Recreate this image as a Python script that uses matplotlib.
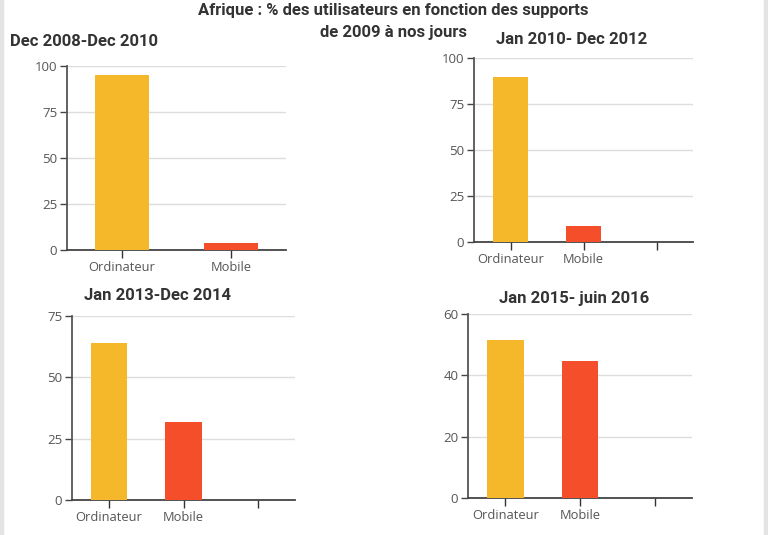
import matplotlib
matplotlib.use("Agg")
import matplotlib.pyplot as plt
from matplotlib.patches import Rectangle

# data
periods = ["Dec 2008-Dec 2010", "Jan 2010- Dec 2012", "Jan 2013-Dec 2014", "Jan 2015- juin 2016"]
supports = ["Ordinateur", "Mobile"]
ordinateur = [95, 90, 64, 51.6]
mobile = [4, 9, 32, 44.6]
y_max = [100, 100, 75, 60]
y_ticks = [[0, 25, 50, 75, 100], [0, 25, 50, 75, 100], [0, 25, 50, 75], [0, 20, 40, 60]]
n_slots = [2, 3, 3, 3]  # the last three panels carry an empty third slot

yellow = "#F6B82B"
red = "#F54E2B"

plt.rcParams["font.family"] = ["Open Sans", "DejaVu Sans"]

fig = plt.figure(figsize=(7.68, 5.35), dpi=100)
W, H = 768, 535

# axes boxes in pixels: left, top, right, bottom
boxes = [(67, 66, 286, 250), (474, 58.3, 693, 242.3), (72, 316, 295, 500.3), (468, 313.7, 692, 498)]
titles_xy = [(10, 42, "left"), (572, 40, "center"), (157, 296, "center"), (574, 298, "center")]

for i, (l, t, r, b) in enumerate(boxes):
    ax = fig.add_axes([l / W, 1 - b / H, (r - l) / W, (b - t) / H])
    vals = [ordinateur[i], mobile[i]]
    ax.bar(range(2), vals, width=0.49, color=[yellow, red], zorder=3)
    ax.set_xlim(-0.5, n_slots[i] - 0.5)
    ax.set_ylim(0, y_max[i])
    ax.set_xticks(range(n_slots[i]))
    ax.set_xticklabels(supports + [""] * (n_slots[i] - 2))
    ax.set_yticks(y_ticks[i])
    ax.grid(axis="y", color="#dddddd", linewidth=1, zorder=0)
    for s in ["top", "right"]:
        ax.spines[s].set_visible(False)
    ax.spines["left"].set_color("#555555")
    ax.spines["left"].set_linewidth(1.3)
    ax.spines["bottom"].set_color("#444444")
    ax.spines["bottom"].set_linewidth(1.3)
    ax.tick_params(axis="y", length=5, width=1, color="#444444", labelsize=9.5,
                   labelcolor="#555555", pad=2)
    ax.tick_params(axis="x", length=6, width=1, color="#333333", labelsize=9.3,
                   labelcolor="#555555", pad=2)
    tx, ty, ha = titles_xy[i]
    fig.text(tx / W, 1 - ty / H, periods[i], ha=ha, va="center", fontsize=12,
             fontweight="bold", family="Roboto", color="#333333")

fig.text(393 / W, 1 - 10 / H, "Afrique : % des utilisateurs en fonction des supports",
         ha="center", va="center", fontsize=12, fontweight="bold", family="Roboto", color="#333333")
fig.text(393 / W, 1 - 32 / H, "de 2009 à nos jours",
         ha="center", va="center", fontsize=12, fontweight="bold", family="Roboto", color="#333333")

# light gray page borders
fig.patches.append(Rectangle((0, 0), 3 / W, 1, transform=fig.transFigure, color="#e4e4e4", zorder=0))
fig.patches.append(Rectangle(((W - 4) / W, 0), 4 / W, 1, transform=fig.transFigure, color="#e4e4e4", zorder=0))

fig.savefig("out.png", dpi=100)
